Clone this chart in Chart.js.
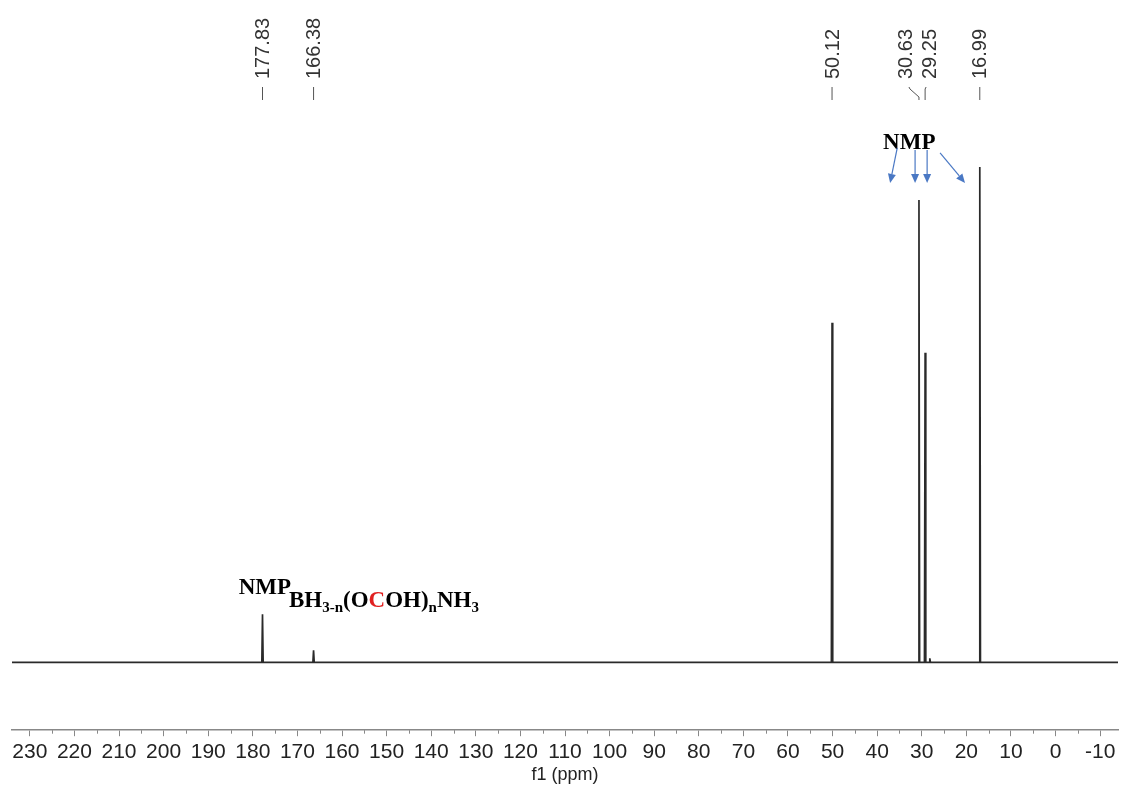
<!DOCTYPE html>
<html>
<head>
<meta charset="utf-8">
<script src="https://cdn.jsdelivr.net/npm/chart.js@4.4.1/dist/chart.umd.min.js"></script>
<style>
  html, body { margin: 0; padding: 0; background: #fff; }
  #wrap { width: 1123px; height: 786px; position: relative; }
</style>
</head>
<body>
<div id="wrap"><canvas id="c"></canvas></div>
<script>
// ---- data ----
const peakShifts  = [177.83, 166.38, 50.12, 30.63, 29.25, 28.2, 16.99];   // ppm
const peakHeights = [48, 12, 340, 463, 310, 4, 496];                      // arbitrary intensity
const labelShifts = [177.83, 166.38, 50.12, 30.63, 29.25, 16.99];
const labelTexts  = ["177.83", "166.38", "50.12", "30.63", "29.25", "16.99"];
const xTicks = [230, 220, 210, 200, 190, 180, 170, 160, 150, 140, 130, 120, 110, 100,
                90, 80, 70, 60, 50, 40, 30, 20, 10, 0, -10];
const xRange = [-14, 234];
const yRange = [-68, 558];

// NMP arrows: [fromPpm, fromInt, toPpm, toInt]
const arrowsNMP = [
  [35.5, 515, 37.1, 480],
  [31.5, 513, 31.5, 480],
  [28.8, 513, 28.8, 480],
  [25.9, 510, 20.3, 480]
];

// ---- style / layout (not data) ----
const labelOffsetsPx = [0, 0, 0, -13, 4, 0];
const peakHalfWidth = 0.15;

// build spectrum points from the data arrays
const spectrum = [{x: xRange[1], y: 0}];
const order = peakShifts.map((s, i) => i).sort((a, b) => peakShifts[b] - peakShifts[a]);
for (const i of order) {
  spectrum.push({x: peakShifts[i] + peakHalfWidth, y: 0});
  spectrum.push({x: peakShifts[i], y: peakHeights[i]});
  spectrum.push({x: peakShifts[i] - peakHalfWidth, y: 0});
}
spectrum.push({x: xRange[0], y: 0});

const overlay = {
  id: 'overlay',
  afterDraw(chart) {
    const ctx = chart.ctx;
    const xs = chart.scales.x, ys = chart.scales.y;
    const bottom = chart.chartArea.bottom;
    ctx.save();

    // minor ticks
    ctx.strokeStyle = '#888';
    ctx.lineWidth = 1;
    for (let k = 0; k < xTicks.length - 1; k++) {
      const v = (xTicks[k] + xTicks[k + 1]) / 2;
      const px = Math.round(xs.getPixelForValue(v)) + 0.5;
      ctx.beginPath(); ctx.moveTo(px, bottom); ctx.lineTo(px, bottom + 3.5); ctx.stroke();
    }

    // peak labels at top
    ctx.font = '20px "Liberation Sans", Arial, sans-serif';
    ctx.fillStyle = '#333';
    ctx.strokeStyle = '#555';
    ctx.lineWidth = 1;
    labelShifts.forEach((s, i) => {
      const peakX = xs.getPixelForValue(s);
      const lx = peakX + labelOffsetsPx[i];
      ctx.save();
      ctx.translate(lx, 79);
      ctx.rotate(-Math.PI / 2);
      ctx.textAlign = 'left';
      ctx.textBaseline = 'middle';
      ctx.fillText(labelTexts[i], 0, 1);
      ctx.restore();
      ctx.beginPath();
      if (Math.abs(labelOffsetsPx[i]) < 0.5) {
        ctx.moveTo(lx, 87); ctx.lineTo(lx, 100);
      } else {
        ctx.moveTo(lx + (labelOffsetsPx[i] < 0 ? 3 : -3), 87);
        ctx.lineTo(lx + (labelOffsetsPx[i] < 0 ? 4 : -4), 89);
        ctx.lineTo(peakX, 97);
        ctx.lineTo(peakX, 100);
      }
      ctx.stroke();
    });

    // NMP annotations
    ctx.fillStyle = '#000';
    ctx.font = 'bold 23px "Liberation Serif", "Times New Roman", serif';
    ctx.textAlign = 'center';
    ctx.textBaseline = 'middle';
    ctx.fillText('NMP', xs.getPixelForValue(177.3), ys.getPixelForValue(74));
    ctx.fillText('NMP', xs.getPixelForValue(32.8), ys.getPixelForValue(520));

    // BH3-n(OCOH)nNH3 label
    const segs = [
      ['BH', 'big', '#000'], ['3-n', 'sub', '#000'], ['(O', 'big', '#000'],
      ['C', 'big', '#e02020'], ['OH)', 'big', '#000'], ['n', 'sub', '#000'],
      ['NH', 'big', '#000'], ['3', 'sub', '#000']
    ];
    let cx = xs.getPixelForValue(171.9);
    const baseY = ys.getPixelForValue(55);
    ctx.textAlign = 'left';
    ctx.textBaseline = 'alphabetic';
    for (const [t, kind, col] of segs) {
      ctx.font = kind === 'big' ? 'bold 23px "Liberation Serif", serif' : 'bold 15px "Liberation Serif", serif';
      ctx.fillStyle = col;
      ctx.fillText(t, cx, kind === 'big' ? baseY : baseY + 5);
      cx += ctx.measureText(t).width;
    }

    // arrows
    ctx.strokeStyle = '#4a78c4';
    ctx.fillStyle = '#4a78c4';
    ctx.lineWidth = 1.2;
    for (const [x0, y0, x1, y1] of arrowsNMP) {
      const ax = xs.getPixelForValue(x0), ay = ys.getPixelForValue(y0);
      const bx = xs.getPixelForValue(x1), by = ys.getPixelForValue(y1);
      const ang = Math.atan2(by - ay, bx - ax);
      const L = 9, W = 4;
      const hx = bx - L * Math.cos(ang), hy = by - L * Math.sin(ang);
      ctx.beginPath(); ctx.moveTo(ax, ay); ctx.lineTo(hx, hy); ctx.stroke();
      ctx.beginPath();
      ctx.moveTo(bx, by);
      ctx.lineTo(hx + W * Math.sin(ang), hy - W * Math.cos(ang));
      ctx.lineTo(hx - W * Math.sin(ang), hy + W * Math.cos(ang));
      ctx.closePath(); ctx.fill();
    }
    ctx.restore();
  }
};

new Chart(document.getElementById('c'), {
  type: 'line',
  data: {
    datasets: [{
      data: spectrum,
      borderColor: '#2a2a2a',
      borderWidth: 1.7,
      pointRadius: 0,
      tension: 0,
      fill: false
    }]
  },
  options: {
    responsive: true,
    maintainAspectRatio: false,
    animation: false,
    devicePixelRatio: 1,
    layout: { padding: { left: 12, right: 5, top: 105, bottom: 0 } },
    plugins: { legend: { display: false }, tooltip: { enabled: false } },
    scales: {
      x: {
        type: 'linear',
        reverse: true,
        min: xRange[0],
        max: xRange[1],
        afterBuildTicks: (scale) => { scale.ticks = xTicks.map(v => ({ value: v })); },
        ticks: {
          autoSkip: false,
          maxRotation: 0,
          color: '#222',
          padding: 3,
          font: { family: '"Liberation Sans", Arial, sans-serif', size: 21 },
          callback: (v) => String(v)
        },
        grid: { display: true, drawOnChartArea: false, drawTicks: true, tickLength: 6, color: '#888', tickWidth: 1 },
        border: { display: true, color: '#888', width: 1.5 },
        title: {
          display: true,
          text: 'f1 (ppm)',
          color: '#222',
          padding: { top: -3, bottom: 0 },
          font: { family: '"Liberation Sans", Arial, sans-serif', size: 18 }
        }
      },
      y: {
        display: false,
        min: yRange[0],
        max: yRange[1]
      }
    }
  },
  plugins: [overlay]
});
</script>
</body>
</html>
